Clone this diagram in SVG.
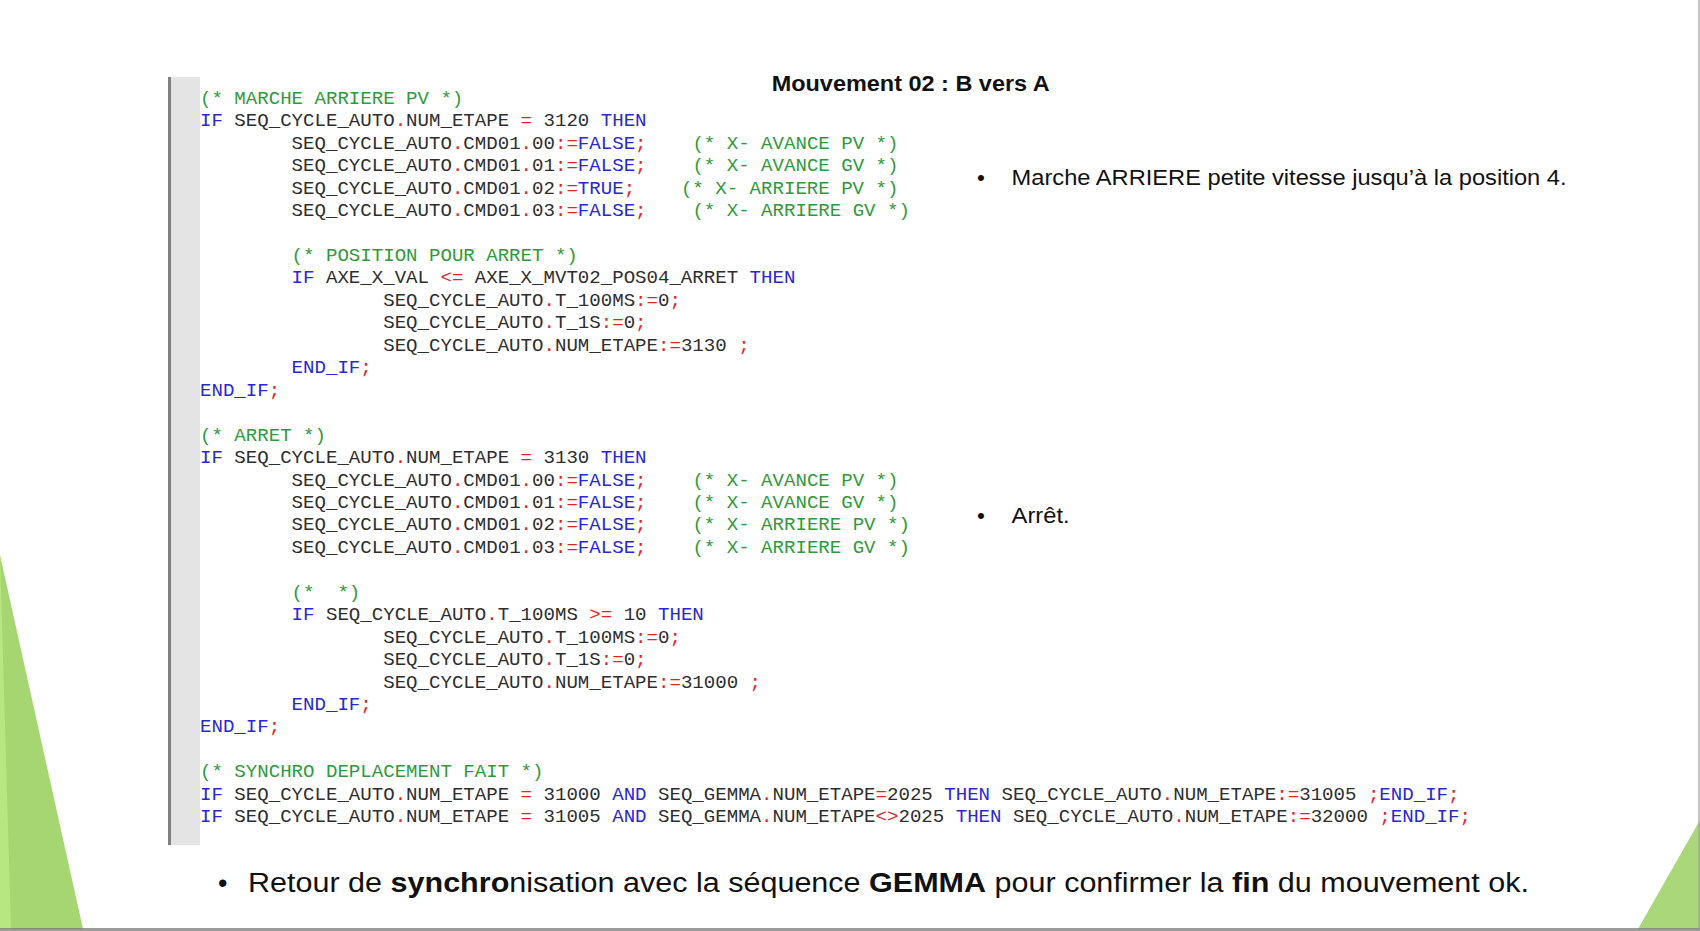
<svg xmlns="http://www.w3.org/2000/svg" width="1700" height="931" viewBox="0 0 1700 931">
<style>
.code{font-family:"Liberation Mono","Courier New",monospace;font-size:19.08px;fill:#2e2e2e}
.k{fill:#2828d4}
.o{fill:#e2231f}
.c{fill:#2f9a3a}
.sans{font-family:"Liberation Sans",Arial,sans-serif;fill:#111}
.b{font-weight:bold}
</style>
<rect x="0" y="0" width="1700" height="931" fill="#ffffff"/>
<g id="decor">
<polygon points="0,555 83,929 0,929" fill="#a6d671"/>
<polygon points="0,555 11,929 0,929" fill="#b6e780"/>
<polygon points="1700,820 1638,929 1700,929" fill="#a9d779"/>
<rect x="0" y="928" width="1700" height="3" fill="#707070" opacity="0.7"/>
<rect x="1698" y="0" width="2" height="931" fill="#a0a0a0" opacity="0.6"/>
</g>
<g id="code-panel">
<rect x="171" y="77" width="29" height="768" fill="#e4e4e4"/>
<rect x="168" y="77" width="3" height="768" fill="#808080"/>
<g class="code">
<text x="200" y="103.8"><tspan class="c">(* MARCHE ARRIERE PV *)</tspan></text>
<text x="200" y="126.3"><tspan class="k">IF</tspan> SEQ_CYCLE_AUTO<tspan class="o">.</tspan>NUM_ETAPE <tspan class="o">=</tspan> 3120 <tspan class="k">THEN</tspan></text>
<text x="291.6" y="148.7">SEQ_CYCLE_AUTO<tspan class="o">.</tspan>CMD01<tspan class="o">.</tspan>00<tspan class="o">:=</tspan><tspan class="k">FALSE</tspan><tspan class="o">;</tspan><tspan class="c" x="692.4">(* X- AVANCE PV *)</tspan></text>
<text x="291.6" y="171.2">SEQ_CYCLE_AUTO<tspan class="o">.</tspan>CMD01<tspan class="o">.</tspan>01<tspan class="o">:=</tspan><tspan class="k">FALSE</tspan><tspan class="o">;</tspan><tspan class="c" x="692.4">(* X- AVANCE GV *)</tspan></text>
<text x="291.6" y="193.6">SEQ_CYCLE_AUTO<tspan class="o">.</tspan>CMD01<tspan class="o">.</tspan>02<tspan class="o">:=</tspan><tspan class="k">TRUE</tspan><tspan class="o">;</tspan><tspan class="c" x="680.9">(* X- ARRIERE PV *)</tspan></text>
<text x="291.6" y="216.1">SEQ_CYCLE_AUTO<tspan class="o">.</tspan>CMD01<tspan class="o">.</tspan>03<tspan class="o">:=</tspan><tspan class="k">FALSE</tspan><tspan class="o">;</tspan><tspan class="c" x="692.4">(* X- ARRIERE GV *)</tspan></text>
<text x="291.6" y="261.0"><tspan class="c">(* POSITION POUR ARRET *)</tspan></text>
<text x="291.6" y="283.4"><tspan class="k">IF</tspan> AXE_X_VAL <tspan class="o">&lt;=</tspan> AXE_X_MVT02_POS04_ARRET <tspan class="k">THEN</tspan></text>
<text x="383.2" y="305.9">SEQ_CYCLE_AUTO<tspan class="o">.</tspan>T_100MS<tspan class="o">:=</tspan>0<tspan class="o">;</tspan></text>
<text x="383.2" y="328.3">SEQ_CYCLE_AUTO<tspan class="o">.</tspan>T_1S<tspan class="o">:=</tspan>0<tspan class="o">;</tspan></text>
<text x="383.2" y="350.8">SEQ_CYCLE_AUTO<tspan class="o">.</tspan>NUM_ETAPE<tspan class="o">:=</tspan>3130 <tspan class="o">;</tspan></text>
<text x="291.6" y="373.2"><tspan class="k">END_IF</tspan><tspan class="o">;</tspan></text>
<text x="200" y="395.7"><tspan class="k">END_IF</tspan><tspan class="o">;</tspan></text>
<text x="200" y="440.6"><tspan class="c">(* ARRET *)</tspan></text>
<text x="200" y="463.0"><tspan class="k">IF</tspan> SEQ_CYCLE_AUTO<tspan class="o">.</tspan>NUM_ETAPE <tspan class="o">=</tspan> 3130 <tspan class="k">THEN</tspan></text>
<text x="291.6" y="485.5">SEQ_CYCLE_AUTO<tspan class="o">.</tspan>CMD01<tspan class="o">.</tspan>00<tspan class="o">:=</tspan><tspan class="k">FALSE</tspan><tspan class="o">;</tspan><tspan class="c" x="692.4">(* X- AVANCE PV *)</tspan></text>
<text x="291.6" y="507.9">SEQ_CYCLE_AUTO<tspan class="o">.</tspan>CMD01<tspan class="o">.</tspan>01<tspan class="o">:=</tspan><tspan class="k">FALSE</tspan><tspan class="o">;</tspan><tspan class="c" x="692.4">(* X- AVANCE GV *)</tspan></text>
<text x="291.6" y="530.4">SEQ_CYCLE_AUTO<tspan class="o">.</tspan>CMD01<tspan class="o">.</tspan>02<tspan class="o">:=</tspan><tspan class="k">FALSE</tspan><tspan class="o">;</tspan><tspan class="c" x="692.4">(* X- ARRIERE PV *)</tspan></text>
<text x="291.6" y="552.8">SEQ_CYCLE_AUTO<tspan class="o">.</tspan>CMD01<tspan class="o">.</tspan>03<tspan class="o">:=</tspan><tspan class="k">FALSE</tspan><tspan class="o">;</tspan><tspan class="c" x="692.4">(* X- ARRIERE GV *)</tspan></text>
<text x="291.6" y="597.7"><tspan class="c">(*</tspan><tspan class="c" x="337.4">*)</tspan></text>
<text x="291.6" y="620.2"><tspan class="k">IF</tspan> SEQ_CYCLE_AUTO<tspan class="o">.</tspan>T_100MS <tspan class="o">&gt;=</tspan> 10 <tspan class="k">THEN</tspan></text>
<text x="383.2" y="642.6">SEQ_CYCLE_AUTO<tspan class="o">.</tspan>T_100MS<tspan class="o">:=</tspan>0<tspan class="o">;</tspan></text>
<text x="383.2" y="665.1">SEQ_CYCLE_AUTO<tspan class="o">.</tspan>T_1S<tspan class="o">:=</tspan>0<tspan class="o">;</tspan></text>
<text x="383.2" y="687.5">SEQ_CYCLE_AUTO<tspan class="o">.</tspan>NUM_ETAPE<tspan class="o">:=</tspan>31000 <tspan class="o">;</tspan></text>
<text x="291.6" y="710.0"><tspan class="k">END_IF</tspan><tspan class="o">;</tspan></text>
<text x="200" y="732.4"><tspan class="k">END_IF</tspan><tspan class="o">;</tspan></text>
<text x="200" y="777.3"><tspan class="c">(* SYNCHRO DEPLACEMENT FAIT *)</tspan></text>
<text x="200" y="799.8"><tspan class="k">IF</tspan> SEQ_CYCLE_AUTO<tspan class="o">.</tspan>NUM_ETAPE <tspan class="o">=</tspan> 31000 <tspan class="k">AND</tspan> SEQ_GEMMA<tspan class="o">.</tspan>NUM_ETAPE<tspan class="o">=</tspan>2025 <tspan class="k">THEN</tspan> SEQ_CYCLE_AUTO<tspan class="o">.</tspan>NUM_ETAPE<tspan class="o">:=</tspan>31005 <tspan class="o">;</tspan><tspan class="k">END_IF</tspan><tspan class="o">;</tspan></text>
<text x="200" y="822.2"><tspan class="k">IF</tspan> SEQ_CYCLE_AUTO<tspan class="o">.</tspan>NUM_ETAPE <tspan class="o">=</tspan> 31005 <tspan class="k">AND</tspan> SEQ_GEMMA<tspan class="o">.</tspan>NUM_ETAPE<tspan class="o">&lt;&gt;</tspan>2025 <tspan class="k">THEN</tspan> SEQ_CYCLE_AUTO<tspan class="o">.</tspan>NUM_ETAPE<tspan class="o">:=</tspan>32000 <tspan class="o">;</tspan><tspan class="k">END_IF</tspan><tspan class="o">;</tspan></text>
</g>
</g>
<g id="title">
<text class="sans b" x="771.7" y="90.7" font-size="22.5" textLength="278" lengthAdjust="spacingAndGlyphs">Mouvement 02 : B vers A</text>
</g>
<g id="note-1">
<text class="sans" x="977" y="185" font-size="22.5">•</text>
<text class="sans" x="1011.6" y="185" font-size="22.5" textLength="555" lengthAdjust="spacingAndGlyphs">Marche ARRIERE petite vitesse jusqu’à la position 4.</text>
</g>
<g id="note-2">
<text class="sans" x="977" y="522.5" font-size="22.5">•</text>
<text class="sans" x="1011.6" y="522.5" font-size="22.5" textLength="58" lengthAdjust="spacingAndGlyphs">Arrêt.</text>
</g>
<g id="note-3">
<text class="sans" x="218" y="891.7" font-size="27">•</text>
<text class="sans" x="248" y="891.7" font-size="27" textLength="1281" lengthAdjust="spacingAndGlyphs">Retour de <tspan class="b">synchro</tspan>nisation avec la séquence <tspan class="b">GEMMA</tspan> pour confirmer la <tspan class="b">fin</tspan> du mouvement ok.</text>
</g>
</svg>
